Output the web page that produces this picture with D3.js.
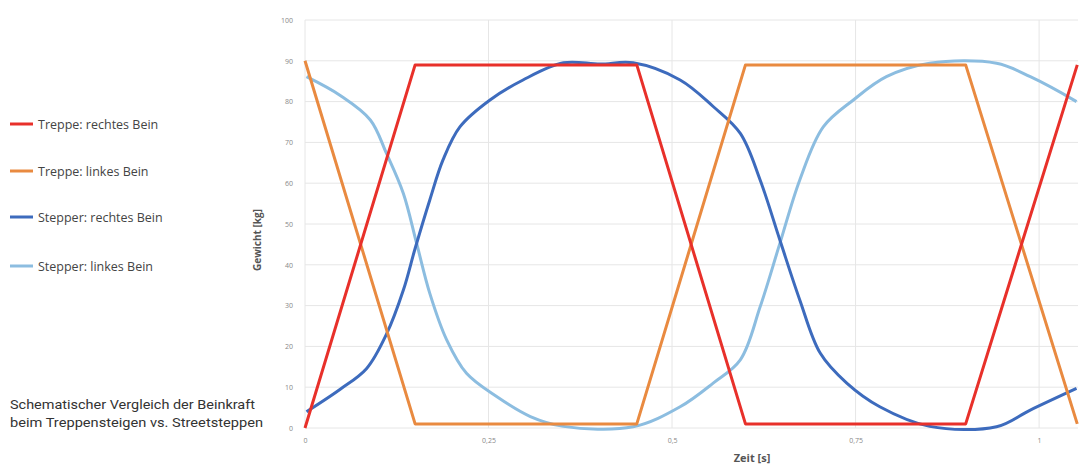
<!DOCTYPE html>
<html><head><meta charset="utf-8">
<script src="https://cdn.jsdelivr.net/npm/d3@7"></script>
<style>body{margin:0;background:#fff}svg{display:block}</style>
</head><body><svg id="c" width="1082" height="468"></svg>
<script>
const seriesNames = ["Treppe: rechtes Bein","Treppe: linkes Bein","Stepper: rechtes Bein","Stepper: linkes Bein"];
const seriesColors = ["#e8302a","#e98a40","#3d6bbd","#8cbde0"];
const xTicks = [0,0.25,0.5,0.75,1];
const xTickLabels = ["0","0,25","0,5","0,75","1"];
const yTicks = [0,10,20,30,40,50,60,70,80,90,100];

const treppeRechtsT = [0,0.15,0.452,0.6,0.9,1.052];
const treppeRechtsV = [0,89,89,1,1,89];
const treppeLinksT = [0,0.15,0.452,0.6,0.9,1.052];
const treppeLinksV = [90,1,1,89,89,1];
const stepperRechtsT = [0.002,0.048,0.084,0.111,0.134,0.15,0.17,0.188,0.211,0.252,0.297,0.352,0.402,0.447,0.511,0.556,0.593,0.62,0.647,0.674,0.702,0.738,0.783,0.851,0.942,0.988,1.051];
const stepperRechtsV = [4,9.5,14.6,23,33.8,44,55.9,65.7,73.8,80.4,85.3,89.5,89.2,89.5,85.3,78.8,72.2,60.8,46,31.4,18.3,11,5.2,0.4,0.3,4.4,9.7];
const stepperLinksT = [0.002,0.048,0.089,0.111,0.134,0.152,0.17,0.193,0.22,0.261,0.307,0.352,0.447,0.511,0.556,0.593,0.62,0.647,0.674,0.706,0.747,0.792,0.851,0.942,0.988,1.051];
const stepperLinksV = [86.1,81.5,75.5,67.3,57.5,45.3,33,21.6,13.4,7.7,2.8,0.4,0.3,5.2,11,16.7,29.7,45.3,60.8,73.8,80.4,86.1,89.4,89.4,86.1,80];

const svg = d3.select("#c");
const x = d3.scaleLinear().domain([0,1.053]).range([305,1078]);
const y = d3.scaleLinear().domain([0,100]).range([428,20]);

// grid
svg.append("g").selectAll("line").data(yTicks).join("line")
  .attr("x1",305).attr("x2",1078).attr("y1",d=>y(d)).attr("y2",d=>y(d))
  .attr("stroke","#e6e6e6").attr("stroke-width",1);
svg.append("g").selectAll("line").data(xTicks).join("line")
  .attr("x1",d=>x(d)).attr("x2",d=>x(d)).attr("y1",y(100)).attr("y2",y(0))
  .attr("stroke","#e6e6e6").attr("stroke-width",1);

// axes
const yAxis = svg.append("g").attr("transform","translate(305,0)")
  .call(d3.axisLeft(y).tickValues(yTicks).tickSize(0).tickPadding(12));
yAxis.select(".domain").remove();
yAxis.selectAll("text").attr("fill","#888").style("font","7px 'Open Sans', sans-serif");
const xAxis = svg.append("g").attr("transform","translate(0,432)")
  .call(d3.axisBottom(x).tickValues(xTicks).tickFormat((d,i)=>xTickLabels[i]).tickSize(0).tickPadding(6));
xAxis.select(".domain").remove();
xAxis.selectAll("text").attr("fill","#888").style("font","7px 'Open Sans', sans-serif");

svg.append("text").attr("transform","translate(261,240) rotate(-90)").attr("text-anchor","middle")
  .attr("fill","#555").style("font","bold 10px 'Open Sans', sans-serif").text("Gewicht [kg]");
svg.append("text").attr("x",752).attr("y",462).attr("text-anchor","middle")
  .attr("fill","#555").style("font","bold 11px 'Liberation Sans Narrow','Open Sans', sans-serif").text("Zeit [s]");

const data = [
  [treppeRechtsT,treppeRechtsV,d3.curveLinear],
  [treppeLinksT,treppeLinksV,d3.curveLinear],
  [stepperRechtsT,stepperRechtsV,d3.curveCatmullRom.alpha(0.5)],
  [stepperLinksT,stepperLinksV,d3.curveCatmullRom.alpha(0.5)]
];
const order = [3,2,1,0];
order.forEach(i=>{
  const [ts,vs,cv] = data[i];
  const pts = ts.map((t,j)=>[t,vs[j]]);
  svg.append("path").datum(pts)
    .attr("d",d3.line().x(d=>x(d[0])).y(d=>y(d[1])).curve(cv))
    .attr("fill","none").attr("stroke",seriesColors[i]).attr("stroke-width",3)
    .attr("stroke-linejoin","round");
});

// legend
const legY = [124,171,217,266];
const leg = svg.append("g").selectAll("g").data(seriesNames).join("g")
  .attr("transform",(d,i)=>`translate(0,${legY[i]})`);
leg.append("line").attr("x1",10).attr("x2",33).attr("y1",0).attr("y2",0)
  .attr("stroke",(d,i)=>seriesColors[i]).attr("stroke-width",3);
leg.append("text").attr("x",38).attr("y",4.5).attr("fill","#444")
  .style("font","12.5px 'Open Sans', sans-serif").text(d=>d);

// caption
const cap = ["Schematischer Vergleich der Beinkraft","beim Treppensteigen vs. Streetsteppen"];
const capW = [245,253];
svg.append("g").selectAll("text").data(cap).join("text")
  .attr("x",10).attr("y",(d,i)=>409+i*18).attr("fill","#333")
  .attr("textLength",(d,i)=>capW[i]).attr("lengthAdjust","spacingAndGlyphs")
  .style("font","13px 'Liberation Sans Narrow','Roboto', sans-serif").text(d=>d);
</script></body></html>
